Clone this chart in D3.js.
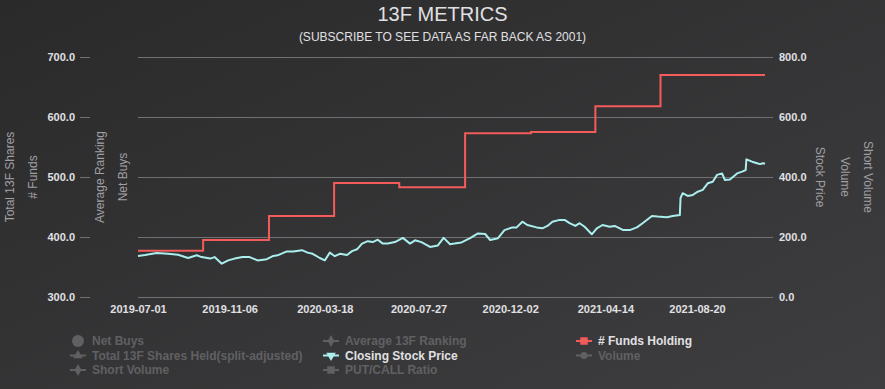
<!DOCTYPE html>
<html lang="en">
<head>
    <meta charset="UTF-8">
    <title>13F Metrics</title>
    <style>
        body {
            margin: 0;
            overflow: hidden;
            background: #2a2a2b;
        }
        text {
            font-family: "Liberation Sans", Arial, sans-serif;
        }
        .tick text {
            font-size: 11px;
            font-weight: bold;
            fill: #e0e0e3;
        }
        .axis-title {
            font-size: 12px;
            fill: #a0a0a3;
        }
        .legend text {
            font-size: 12px;
            font-weight: bold;
        }
    </style>
</head>
<body>
    <svg id="chart"></svg>
    <script src="https://d3js.org/d3.v7.min.js"></script>
    <script>
        // closing stock price, sampled off the chart
        const priceDates = [
            "2019-07-01", "2019-07-11", "2019-07-27", "2019-08-12", "2019-08-26", "2019-09-09", "2019-09-21", "2019-09-28",
            "2019-10-10", "2019-10-16", "2019-10-26", "2019-11-04", "2019-11-13", "2019-11-24", "2019-12-04", "2019-12-15",
            "2019-12-28", "2020-01-06", "2020-01-12", "2020-01-25", "2020-02-03", "2020-02-15", "2020-02-23", "2020-03-01",
            "2020-03-11", "2020-03-18", "2020-03-25", "2020-04-01", "2020-04-08", "2020-04-18", "2020-04-25", "2020-05-02",
            "2020-05-09", "2020-05-17", "2020-05-24", "2020-05-31", "2020-06-07", "2020-06-14", "2020-06-24", "2020-07-05",
            "2020-07-15", "2020-07-22", "2020-07-31", "2020-08-12", "2020-08-23", "2020-08-31", "2020-09-09", "2020-09-15",
            "2020-09-25", "2020-10-07", "2020-10-18", "2020-10-28", "2020-11-04", "2020-11-15", "2020-11-24", "2020-12-05",
            "2020-12-11", "2020-12-19", "2020-12-26", "2021-01-08", "2021-01-16", "2021-01-23", "2021-01-30", "2021-02-09",
            "2021-02-16", "2021-02-23", "2021-03-03", "2021-03-09", "2021-03-16", "2021-03-26", "2021-04-02", "2021-04-10",
            "2021-04-20", "2021-04-27", "2021-05-09", "2021-05-18", "2021-05-28", "2021-06-05", "2021-06-18", "2021-06-26",
            "2021-07-09", "2021-07-17", "2021-07-27", "2021-07-28", "2021-07-31", "2021-08-07", "2021-08-14", "2021-08-21",
            "2021-08-28", "2021-09-04", "2021-09-11", "2021-09-17", "2021-09-24", "2021-09-28", "2021-10-05", "2021-10-15",
            "2021-10-22", "2021-10-27", "2021-10-28", "2021-11-05", "2021-11-12", "2021-11-16", "2021-11-20", "2021-11-23"
        ];
        const priceValues = [
            137, 140, 147, 144, 141, 130, 139, 133,
            128, 133, 111, 122, 128, 133, 133, 122,
            126, 137, 139, 152, 152, 156, 148, 144,
            130, 122, 148, 136, 144, 140, 153, 159,
            178, 186, 183, 191, 178, 178, 183, 197,
            178, 189, 183, 167, 172, 197, 176, 178,
            182, 196, 212, 210, 190, 196, 223, 232,
            232, 251, 240, 232, 229, 237, 251, 257,
            257, 246, 237, 246, 234, 209, 229, 240,
            234, 237, 223, 223, 232, 246, 270, 268,
            266, 270, 273, 330, 346, 337, 340, 351,
            357, 379, 384, 407, 412, 390, 392, 412,
            418, 423, 459, 451, 446, 443, 446, 444
        ];

        // # funds holding, quarterly
        const fundDates = [
            "2019-07-01", "2019-09-30", "2019-12-31", "2020-03-31", "2020-06-30",
            "2020-09-30", "2020-12-31", "2021-03-31", "2021-06-30", "2021-11-23"
        ];
        const fundValues = [377, 395, 435, 490, 483, 573, 575, 618, 670, 670];

        const xTickLabels = ["2019-07-01", "2019-11-06", "2020-03-18", "2020-07-27", "2020-12-02", "2021-04-14", "2021-08-20"];
        const fundTicks = [300, 400, 500, 600, 700];
        const priceTicks = [0, 200, 400, 600, 800];

        const leftTitles = ["Total 13F Shares", "# Funds", "Average Ranking", "Net Buys"];
        const rightTitles = ["Stock Price", "Volume", "Short Volume"];

        const legendNames = [
            "Net Buys", "Average 13F Ranking", "# Funds Holding",
            "Total 13F Shares Held(split-adjusted)", "Closing Stock Price", "Volume",
            "Short Volume", "PUT/CALL Ratio"
        ];
        const legendSymbols = ["bubble", "diamond", "square", "triangle", "triangle-down", "circle", "diamond", "square"];
        const legendColors = [null, null, "#f45b5b", null, "#aaeeee", null, null, null];

        const width = 885;
        const height = 389;
        const margin = { top: 57, right: 120, bottom: 92, left: 138 };
        const innerW = width - margin.left - margin.right;
        const innerH = height - margin.top - margin.bottom;

        const parse = d3.timeParse("%Y-%m-%d");

        const svg = d3.select("#chart")
            .attr("width", width)
            .attr("height", height);

        const grad = svg.append("defs").append("linearGradient")
            .attr("id", "bg")
            .attr("x1", 0).attr("y1", 0).attr("x2", 1).attr("y2", 1);
        grad.append("stop").attr("offset", "0%").attr("stop-color", "#2a2a2b");
        grad.append("stop").attr("offset", "100%").attr("stop-color", "#3e3e40");

        svg.append("rect")
            .attr("width", width)
            .attr("height", height)
            .attr("fill", "url(#bg)");

        svg.append("text")
            .attr("x", width / 2)
            .attr("y", 21)
            .attr("text-anchor", "middle")
            .style("font-size", "20px")
            .attr("fill", "#e0e0e3")
            .text("13F METRICS");

        svg.append("text")
            .attr("x", width / 2)
            .attr("y", 41)
            .attr("text-anchor", "middle")
            .style("font-size", "12px")
            .attr("fill", "#e0e0e3")
            .text("(SUBSCRIBE TO SEE DATA AS FAR BACK AS 2001)");

        const g = svg.append("g")
            .attr("transform", `translate(${margin.left},${margin.top})`);

        const x = d3.scaleTime()
            .domain([parse(priceDates[0]), parse(priceDates[priceDates.length - 1])])
            .range([0, innerW]);

        const yFunds = d3.scaleLinear().domain([300, 700]).range([innerH, 0]);
        const yPrice = d3.scaleLinear().domain([0, 800]).range([innerH, 0]);

        // grid
        g.append("g")
            .selectAll("line")
            .data(fundTicks)
            .join("line")
            .attr("x1", 0)
            .attr("x2", innerW)
            .attr("y1", d => yFunds(d) + 0.5)
            .attr("y2", d => yFunds(d) + 0.5)
            .attr("stroke", "#707073");

        // left axis (# funds), pushed out past the hidden axes
        const leftAxis = g.append("g")
            .attr("transform", "translate(-48,0)")
            .call(d3.axisLeft(yFunds).tickValues(fundTicks).tickSize(10).tickPadding(5).tickFormat(d3.format(".1f")));
        leftAxis.select(".domain").remove();
        leftAxis.selectAll(".tick line").attr("stroke", "#707073");

        const rightAxis = g.append("g")
            .attr("transform", `translate(${innerW},0)`)
            .call(d3.axisRight(yPrice).tickValues(priceTicks).tickSize(8).tickPadding(6).tickFormat(d3.format(".1f")));
        rightAxis.select(".domain").remove();
        rightAxis.selectAll(".tick line").attr("stroke", "#707073");

        const xAxis = g.append("g")
            .attr("transform", `translate(0,${innerH})`)
            .call(d3.axisBottom(x).tickValues(xTickLabels.map(parse)).tickSize(0).tickPadding(8).tickFormat(d3.timeFormat("%Y-%m-%d")));
        xAxis.select(".domain").remove();

        // hidden axis titles
        const leftX = [10, 33, 100, 123];
        svg.selectAll(".ltitle")
            .data(leftTitles)
            .join("text")
            .attr("class", "axis-title")
            .attr("text-anchor", "middle")
            .attr("dominant-baseline", "central")
            .attr("transform", (d, i) => `translate(${leftX[i]},${margin.top + innerH / 2}) rotate(-90)`)
            .text(d => d);

        const rightX = [820, 845, 868];
        svg.selectAll(".rtitle")
            .data(rightTitles)
            .join("text")
            .attr("class", "axis-title")
            .attr("text-anchor", "middle")
            .attr("dominant-baseline", "central")
            .attr("transform", (d, i) => `translate(${rightX[i]},${margin.top + innerH / 2}) rotate(90)`)
            .text(d => d);

        // series
        const funds = fundDates.map((d, i) => ({ date: parse(d), value: fundValues[i] }));
        const prices = priceDates.map((d, i) => ({ date: parse(d), value: priceValues[i] }));

        g.append("path")
            .datum(funds)
            .attr("fill", "none")
            .attr("stroke", "#f45b5b")
            .attr("stroke-width", 2)
            .attr("d", d3.line().curve(d3.curveStepAfter).x(d => x(d.date)).y(d => yFunds(d.value)));

        g.append("path")
            .datum(prices)
            .attr("fill", "none")
            .attr("stroke", "#aaeeee")
            .attr("stroke-width", 2)
            .attr("stroke-linejoin", "round")
            .attr("d", d3.line().x(d => x(d.date)).y(d => yPrice(d.value)));

        // legend
        const hidden = "#606063";
        const symbolType = {
            "diamond": d3.symbolDiamond,
            "square": d3.symbolSquare,
            "triangle": d3.symbolTriangle,
            "triangle-down": d3.symbolTriangle,
            "circle": d3.symbolCircle
        };

        const legend = svg.append("g").attr("class", "legend");
        const item = legend.selectAll("g")
            .data(legendNames)
            .join("g")
            .attr("transform", (d, i) => `translate(${70 + (i % 3) * 253},${341 + Math.floor(i / 3) * 14.5})`);

        item.each(function (d, i) {
            const el = d3.select(this);
            const c = legendColors[i] || hidden;
            const s = legendSymbols[i];
            if (s === "bubble") {
                el.append("circle").attr("cx", 8).attr("r", 6).attr("fill", c);
            } else {
                el.append("line").attr("x1", 0).attr("x2", 16).attr("stroke", c).attr("stroke-width", 2);
                el.append("path")
                    .attr("d", d3.symbol().type(symbolType[s]).size(s === "square" ? 56 : 40)())
                    .attr("transform", `translate(8,0)${s === "triangle-down" ? " rotate(180)" : ""}`)
                    .attr("fill", c);
            }
            el.append("text")
                .attr("x", 22)
                .attr("dominant-baseline", "central")
                .attr("fill", legendColors[i] ? "#e0e0e3" : hidden)
                .text(d);
        });
    </script>
</body>
</html>
